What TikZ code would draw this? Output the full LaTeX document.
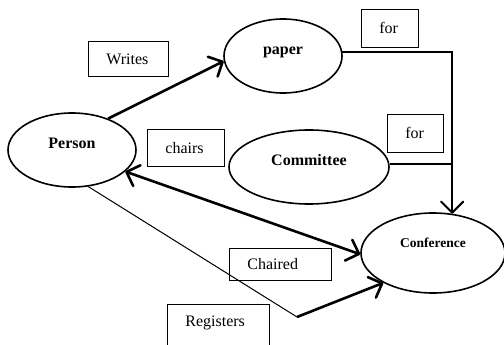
\documentclass[tikz,border=0pt]{standalone}
\usepackage{fontspec}
\setmainfont{Liberation Serif}
\usetikzlibrary{shapes.geometric, arrows.meta}
\tikzset{
        >={Straight Barb[length=11pt,width=22pt,round]}, % open arrow heads
        entity/.style={ellipse, draw, line width=1.6pt, inner sep=0pt, font=\fontsize{16}{19}\selectfont\bfseries, text height=11pt, text depth=14pt}, % the ellipses
        relbox/.style={draw, line width=0.8pt, anchor=north west, inner xsep=18pt, inner ysep=0pt, text height=10.6pt, text depth=0pt, font=\fontsize{16}{19}\selectfont}, % the label boxes
        link/.style={->, line width=2.6pt},
        thinlink/.style={line width=1pt},
}

\begin{document}
\begin{tikzpicture}[x=1pt, y=-1pt]
     \useasboundingbox (0,0) rectangle (504,345);
     % entities
     \node[entity, minimum width=128pt, minimum height=74pt] (person) at (72,150) {Person};
     \node[entity, minimum width=118pt, minimum height=74pt] (paper) at (283,56) {paper};
     \node[entity, minimum width=160pt, minimum height=74pt] (committee) at (309,167) {Committee};
     \node[entity, minimum width=144pt, minimum height=80pt, font=\fontsize{13.5}{16}\selectfont\bfseries, text height=9pt, text depth=20pt] (conference) at (433,253) {Conference};
     % labels
     \node[relbox, text width=44pt, minimum height=35pt] (writes) at (88,41) {Writes};
     \node[relbox, text width=41pt, minimum height=37pt] (chairs) at (147,129) {chairs};
     \node[relbox, text width=21pt, minimum height=38pt] (forpaper) at (361,9) {for};
     \node[relbox, text width=20pt, minimum height=38pt] (forcomm) at (387,114) {for};
     \node[relbox, text width=66pt, minimum height=32pt] (chaired) at (229,248) {Chaired};
     \node[relbox, text width=66pt, text height=22pt, text depth=40pt] (registers) at (167,304) {Registers};
     \coordinate (bend) at (297,317);
     % connectors
     \draw[link] (person.41) -- (paper.185);
     \draw[link, line width=2pt] (paper.4) -| (conference.64);
     \draw[line width=2pt] (committee.2) -- (committee.2 -| conference.64);
     \draw[link, <->] (person.-22) -- (conference.181);
     \draw[thinlink] (person.-66) -- (bend);
     \draw[link] (bend) -- (conference.211);
\end{tikzpicture}
\end{document}
